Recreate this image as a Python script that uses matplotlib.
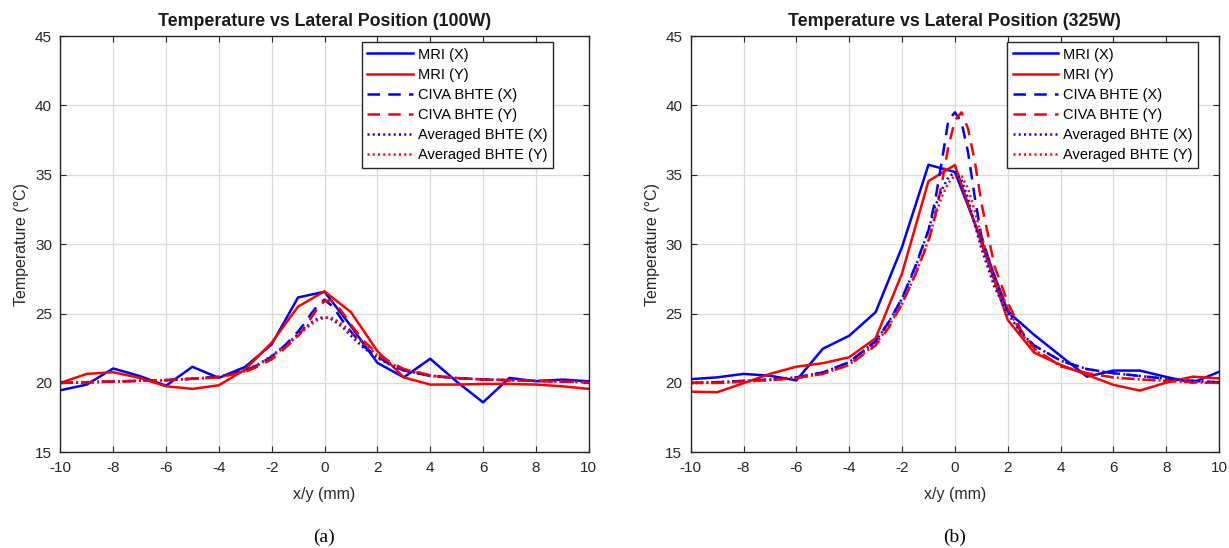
import matplotlib
matplotlib.use("Agg")
import matplotlib.pyplot as plt

plt.rcParams['font.family'] = ['Liberation Sans', 'DejaVu Sans']
plt.rcParams['axes.unicode_minus'] = False

# ---------------- data ----------------
x_mri = [-10, -9, -8, -7, -6, -5, -4, -3, -2, -1, 0, 1, 2, 3, 4, 5, 6, 7, 8, 9, 10]
x_sim = [-10, -9, -8, -7, -6, -5, -4, -3, -2.5, -2, -1.5, -1, -0.75, -0.5, -0.25, 0,
         0.25, 0.5, 0.75, 1, 1.5, 2, 2.5, 3, 4, 5, 6, 7, 8, 9, 10]

# 100 W
mri_x_100 = [19.47, 19.88, 21.04, 20.5, 19.8, 21.16, 20.36, 21.16, 22.78, 26.16, 26.57,
             24.1, 21.45, 20.4, 21.74, 20.1, 18.6, 20.36, 20.12, 20.24, 20.12]
mri_y_100 = [20.0, 20.65, 20.77, 20.36, 19.76, 19.57, 19.83, 20.97, 22.9, 25.5, 26.6,
             25.1, 22.3, 20.4, 19.88, 19.88, 19.93, 19.93, 19.88, 19.76, 19.57]
civa_x_100 = [20.0, 20.05, 20.1, 20.15, 20.2, 20.3, 20.45, 20.9, 21.3, 21.9, 22.7, 23.7,
              24.3, 25.0, 25.6, 26.0, 25.6, 25.0, 24.3, 23.7, 22.6, 21.9, 21.3, 20.9,
              20.5, 20.35, 20.25, 20.2, 20.15, 20.1, 20.1]
civa_y_100 = [20.0, 20.05, 20.1, 20.15, 20.2, 20.3, 20.4, 20.8, 21.2, 21.7, 22.5, 23.4,
              24.0, 24.7, 25.4, 25.9, 25.95, 25.5, 24.9, 24.2, 23.0, 22.1, 21.5, 21.0,
              20.55, 20.35, 20.25, 20.2, 20.15, 20.1, 20.05]
avg_x_100 = [20.0, 20.05, 20.1, 20.15, 20.2, 20.3, 20.45, 20.9, 21.35, 21.95, 22.7, 23.5,
             23.95, 24.35, 24.65, 24.75, 24.6, 24.3, 23.9, 23.4, 22.5, 21.8, 21.3, 20.9,
             20.5, 20.35, 20.25, 20.2, 20.15, 20.1, 20.1]
avg_y_100 = [20.0, 20.05, 20.1, 20.15, 20.2, 20.3, 20.4, 20.85, 21.3, 21.9, 22.6, 23.4,
             23.85, 24.25, 24.55, 24.7, 24.7, 24.45, 24.1, 23.65, 22.8, 22.0, 21.4, 21.0,
             20.55, 20.35, 20.25, 20.2, 20.15, 20.1, 20.05]

# 325 W
mri_x_325 = [20.27, 20.4, 20.65, 20.52, 20.18, 22.46, 23.4, 25.1, 29.8, 35.72, 35.2,
             30.3, 25.14, 23.46, 21.95, 20.45, 20.89, 20.89, 20.43, 20.02, 20.8]
mri_y_325 = [19.37, 19.33, 19.98, 20.65, 21.17, 21.42, 21.85, 23.22, 27.9, 34.55, 35.7,
             30.1, 24.54, 22.18, 21.3, 20.58, 19.86, 19.45, 20.02, 20.45, 20.33]
civa_x_325 = [20.0, 20.05, 20.15, 20.25, 20.4, 20.75, 21.5, 23.0, 24.4, 26.1, 28.4, 31.0,
              33.1, 35.9, 38.9, 39.5, 38.8, 36.6, 33.4, 30.6, 27.6, 25.3, 23.7, 22.7,
              21.6, 21.0, 20.7, 20.5, 20.3, 20.15, 20.05]
civa_y_325 = [20.0, 20.0, 20.1, 20.2, 20.35, 20.65, 21.3, 22.7, 24.0, 25.7, 27.8, 30.2,
              32.0, 34.3, 37.0, 38.9, 39.5, 38.3, 36.0, 33.0, 28.4, 25.8, 23.8, 22.5,
              21.2, 20.7, 20.4, 20.25, 20.15, 20.05, 20.0]
avg_x_325 = [20.0, 20.05, 20.15, 20.25, 20.4, 20.75, 21.5, 23.0, 24.4, 26.1, 28.3, 31.0,
             32.7, 33.9, 34.8, 35.2, 34.6, 33.3, 31.4, 29.7, 26.9, 25.0, 23.6, 22.7,
             21.6, 21.0, 20.7, 20.5, 20.3, 20.15, 20.05]
avg_y_325 = [20.0, 20.0, 20.1, 20.2, 20.35, 20.65, 21.3, 22.8, 24.1, 25.7, 27.8, 30.3,
             32.0, 33.4, 34.4, 34.95, 34.9, 34.0, 32.4, 30.6, 27.6, 25.4, 23.6, 22.4,
             21.2, 20.7, 20.4, 20.25, 20.15, 20.05, 20.0]

labels = ['MRI (X)', 'MRI (Y)', 'CIVA BHTE (X)', 'CIVA BHTE (Y)',
          'Averaged BHTE (X)', 'Averaged BHTE (Y)']
titles = ['Temperature vs Lateral Position (100W)', 'Temperature vs Lateral Position (325W)']
subcaps = ['(a)', '(b)']
x_ticks = [-10, -8, -6, -4, -2, 0, 2, 4, 6, 8, 10]
y_ticks = [15, 20, 25, 30, 35, 40, 45]

panels = [
    (mri_x_100, mri_y_100, civa_x_100, civa_y_100, avg_x_100, avg_y_100),
    (mri_x_325, mri_y_325, civa_x_325, civa_y_325, avg_x_325, avg_y_325),
]

# ---------------- figure ----------------
W, H = 1229, 548
fig = plt.figure(figsize=(W / 100, H / 100), dpi=100)

ax_left_px = [60.3, 690.7]
ax_w_px = 528.4
ax_top_px, ax_bot_px = 36.0, 452.3
legend_anchor_x = [0.932, 0.960]

blue = (0, 0, 1)
red = (1, 0, 0)
lw = 1.8
dash = (0, (5.0, 3.3))
dot = (0, (0.8, 1.3))

for i in range(2):
    ax = fig.add_axes([ax_left_px[i] / W, 1 - ax_bot_px / H,
                       ax_w_px / W, (ax_bot_px - ax_top_px) / H])
    mx, my, cx, cy, axv, ayv = panels[i]
    ax.plot(x_mri, mx, color=blue, lw=lw, ls='-', label=labels[0])
    ax.plot(x_mri, my, color=red, lw=lw, ls='-', label=labels[1])
    ax.plot(x_sim, cx, color=blue, lw=lw, ls=dash, label=labels[2])
    ax.plot(x_sim, cy, color=red, lw=lw, ls=dash, label=labels[3])
    ax.plot(x_sim, axv, color=blue, lw=lw, ls=dot, label=labels[4])
    ax.plot(x_sim, ayv, color=red, lw=lw, ls=dot, label=labels[5])

    ax.set_xlim(-10, 10)
    ax.set_ylim(15, 45)
    ax.set_xticks(x_ticks)
    ax.set_yticks(y_ticks)
    ax.grid(True, color='#dadada', lw=0.9)
    ax.set_axisbelow(True)
    ax.tick_params(direction='in', top=True, right=True, length=4, width=0.8,
                   labelsize=11, colors='#262626', pad=6)
    for s in ax.spines.values():
        s.set_color('#262626')
        s.set_linewidth(1.0)
    ax.set_title(titles[i], fontsize=12.8, fontweight='bold', pad=7, color='#1a1a1a')
    ax.set_xlabel('x/y (mm)', fontsize=11.5, color='#262626', labelpad=9)
    ax.set_ylabel('Temperature (°C)', fontsize=11.5, color='#262626', labelpad=4)
    leg = ax.legend(loc='upper right', bbox_to_anchor=(legend_anchor_x[i], 0.9856),
                    borderaxespad=0, prop={'size': 10.5}, handlelength=3.1,
                    handletextpad=0.35, labelspacing=0.42, borderpad=0.38,
                    fancybox=False, framealpha=1, edgecolor='#262626')
    leg.get_frame().set_linewidth(1.0)
    fig.text((ax_left_px[i] + ax_w_px / 2) / W, 1 - 537 / H, subcaps[i],
             family='Liberation Serif', fontsize=14, ha='center', va='center')

fig.savefig('out.png', dpi=100)
